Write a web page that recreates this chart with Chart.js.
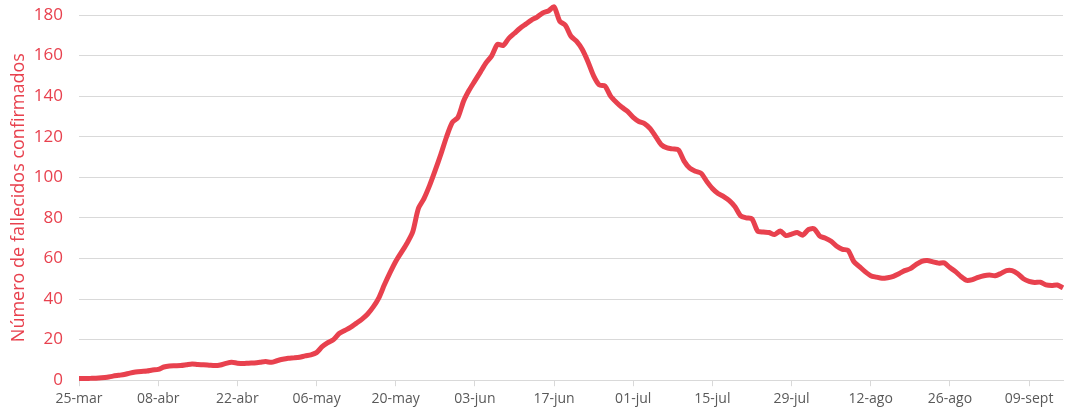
<!DOCTYPE html>
<html>
<head>
<meta charset="utf-8">
<script src="https://cdn.jsdelivr.net/npm/chart.js@4"></script>
<style>
  html, body { margin: 0; padding: 0; background: #fff; }
  #wrap { width: 1065px; height: 413px; position: relative; }
</style>
</head>
<body>
<div id="wrap"><canvas id="deathsCanvas"></canvas></div>
<script>
// días desde el 25-mar (0 = 25-mar)
const tickLabels = ['25-mar', '08-abr', '22-abr', '06-may', '20-may', '03-jun', '17-jun',
  '01-jul', '15-jul', '29-jul', '12-ago', '26-ago', '09-sept'];

// fallecidos confirmados (media diaria), un valor por día desde el 25-mar
const fallecidos = [
  0.8, 0.8, 0.9, 1.0, 1.2, 1.5, 2.0, 2.4, 2.8, 3.5,
  4.0, 4.3, 4.5, 5.0, 5.3, 6.5, 7.0, 7.1, 7.2, 7.6,
  8.0, 7.7, 7.6, 7.4, 7.2, 7.5, 8.3, 8.8, 8.4, 8.2,
  8.4, 8.5, 8.8, 9.2, 8.8, 9.6, 10.3, 10.8, 11.0, 11.3,
  12.0, 12.5, 13.6, 16.5, 18.5, 20.0, 23.0, 24.5, 26.0, 28.0,
  30.0, 32.5, 36.0, 40.5, 47.0, 53.0, 58.5, 63.0, 67.5, 73.0,
  84.5, 89.5, 96.0, 103.5, 111.5, 120.0, 127.0, 129.5, 137.5, 143.0,
  147.5, 152.0, 156.5, 160.0, 165.5, 165.0, 168.5, 171.0, 173.5, 175.5,
  177.5, 179.0, 181.0, 182.0, 184.0, 177.0, 175.0, 169.5, 167.0, 163.0,
  157.0, 150.0, 145.5, 145.0, 140.0, 137.0, 134.5, 132.5, 129.5, 127.5,
  126.5, 124.0, 120.0, 116.0, 114.5, 114.0, 113.5, 108.0, 104.5, 103.0,
  102.0, 98.0, 94.5, 92.0, 90.5, 88.5, 85.5, 81.0, 80.0, 79.5,
  73.5, 73.0, 72.8, 71.8, 73.5, 71.3, 72.0, 72.8, 71.5, 74.3,
  74.6, 71.0, 70.0, 68.5, 66.0, 64.5, 64.0, 58.5, 56.0, 53.5,
  51.5, 50.8, 50.2, 50.5, 51.2, 52.5, 54.0, 55.0, 57.0, 58.6,
  59.0, 58.3, 57.7, 57.8, 55.5, 53.5, 51.0, 49.2, 49.6, 50.7,
  51.5, 51.8, 51.5, 52.6, 54.0, 54.0, 52.5, 50.0, 48.7, 48.2,
  48.3, 47.0, 46.7, 46.9, 45.5
];

const lineColor = 'rgb(232, 65, 78)';
const gridColor = '#d9d9d9';

const points = fallecidos.map((v, i) => ({ x: i, y: v }));

const ctx = document.getElementById('deathsCanvas').getContext('2d');
const deathsChart = new Chart(ctx, {
  type: 'line',
  data: {
    datasets: [{
      label: 'Fallecidos confirmados',
      data: points,
      borderColor: lineColor,
      borderWidth: 5,
      pointRadius: 0,
      tension: 0.25,
      fill: false,
      clip: false // el pico pasa de 180
    }]
  },
  options: {
    responsive: true,
    maintainAspectRatio: false,
    animation: false,
    layout: {
      padding: { top: 15, right: 2, left: 0, bottom: 2 }
    },
    plugins: {
      legend: { display: false },
      tooltip: { enabled: false }
    },
    scales: {
      x: {
        type: 'linear',
        min: 0,
        max: fallecidos.length - 1,
        border: { display: true, color: gridColor },
        grid: {
          drawOnChartArea: false,
          drawTicks: true,
          tickLength: 6,
          color: gridColor
        },
        ticks: {
          stepSize: 14,
          includeBounds: false,
          autoSkip: false,
          maxRotation: 0,
          color: '#595959',
          padding: 4,
          font: { family: 'Open Sans', size: 14 },
          callback: (value) => tickLabels[value / 14]
        }
      },
      y: {
        min: 0,
        max: 180,
        border: { display: false },
        grid: {
          color: gridColor,
          drawTicks: false
        },
        ticks: {
          stepSize: 20,
          color: lineColor,
          padding: 16,
          font: { family: 'Open Sans', size: 17 }
        },
        title: {
          display: true,
          text: 'Número de fallecidos confirmados',
          color: lineColor,
          padding: { top: 8, bottom: 4 },
          font: { family: 'Open Sans', size: 18 }
        },
        // ancho fijo del eje y sin hueco extra arriba
        afterFit: (scale) => {
          scale.width = 79;
          scale.paddingTop = 0;
        }
      }
    }
  }
});
</script>
</body>
</html>
